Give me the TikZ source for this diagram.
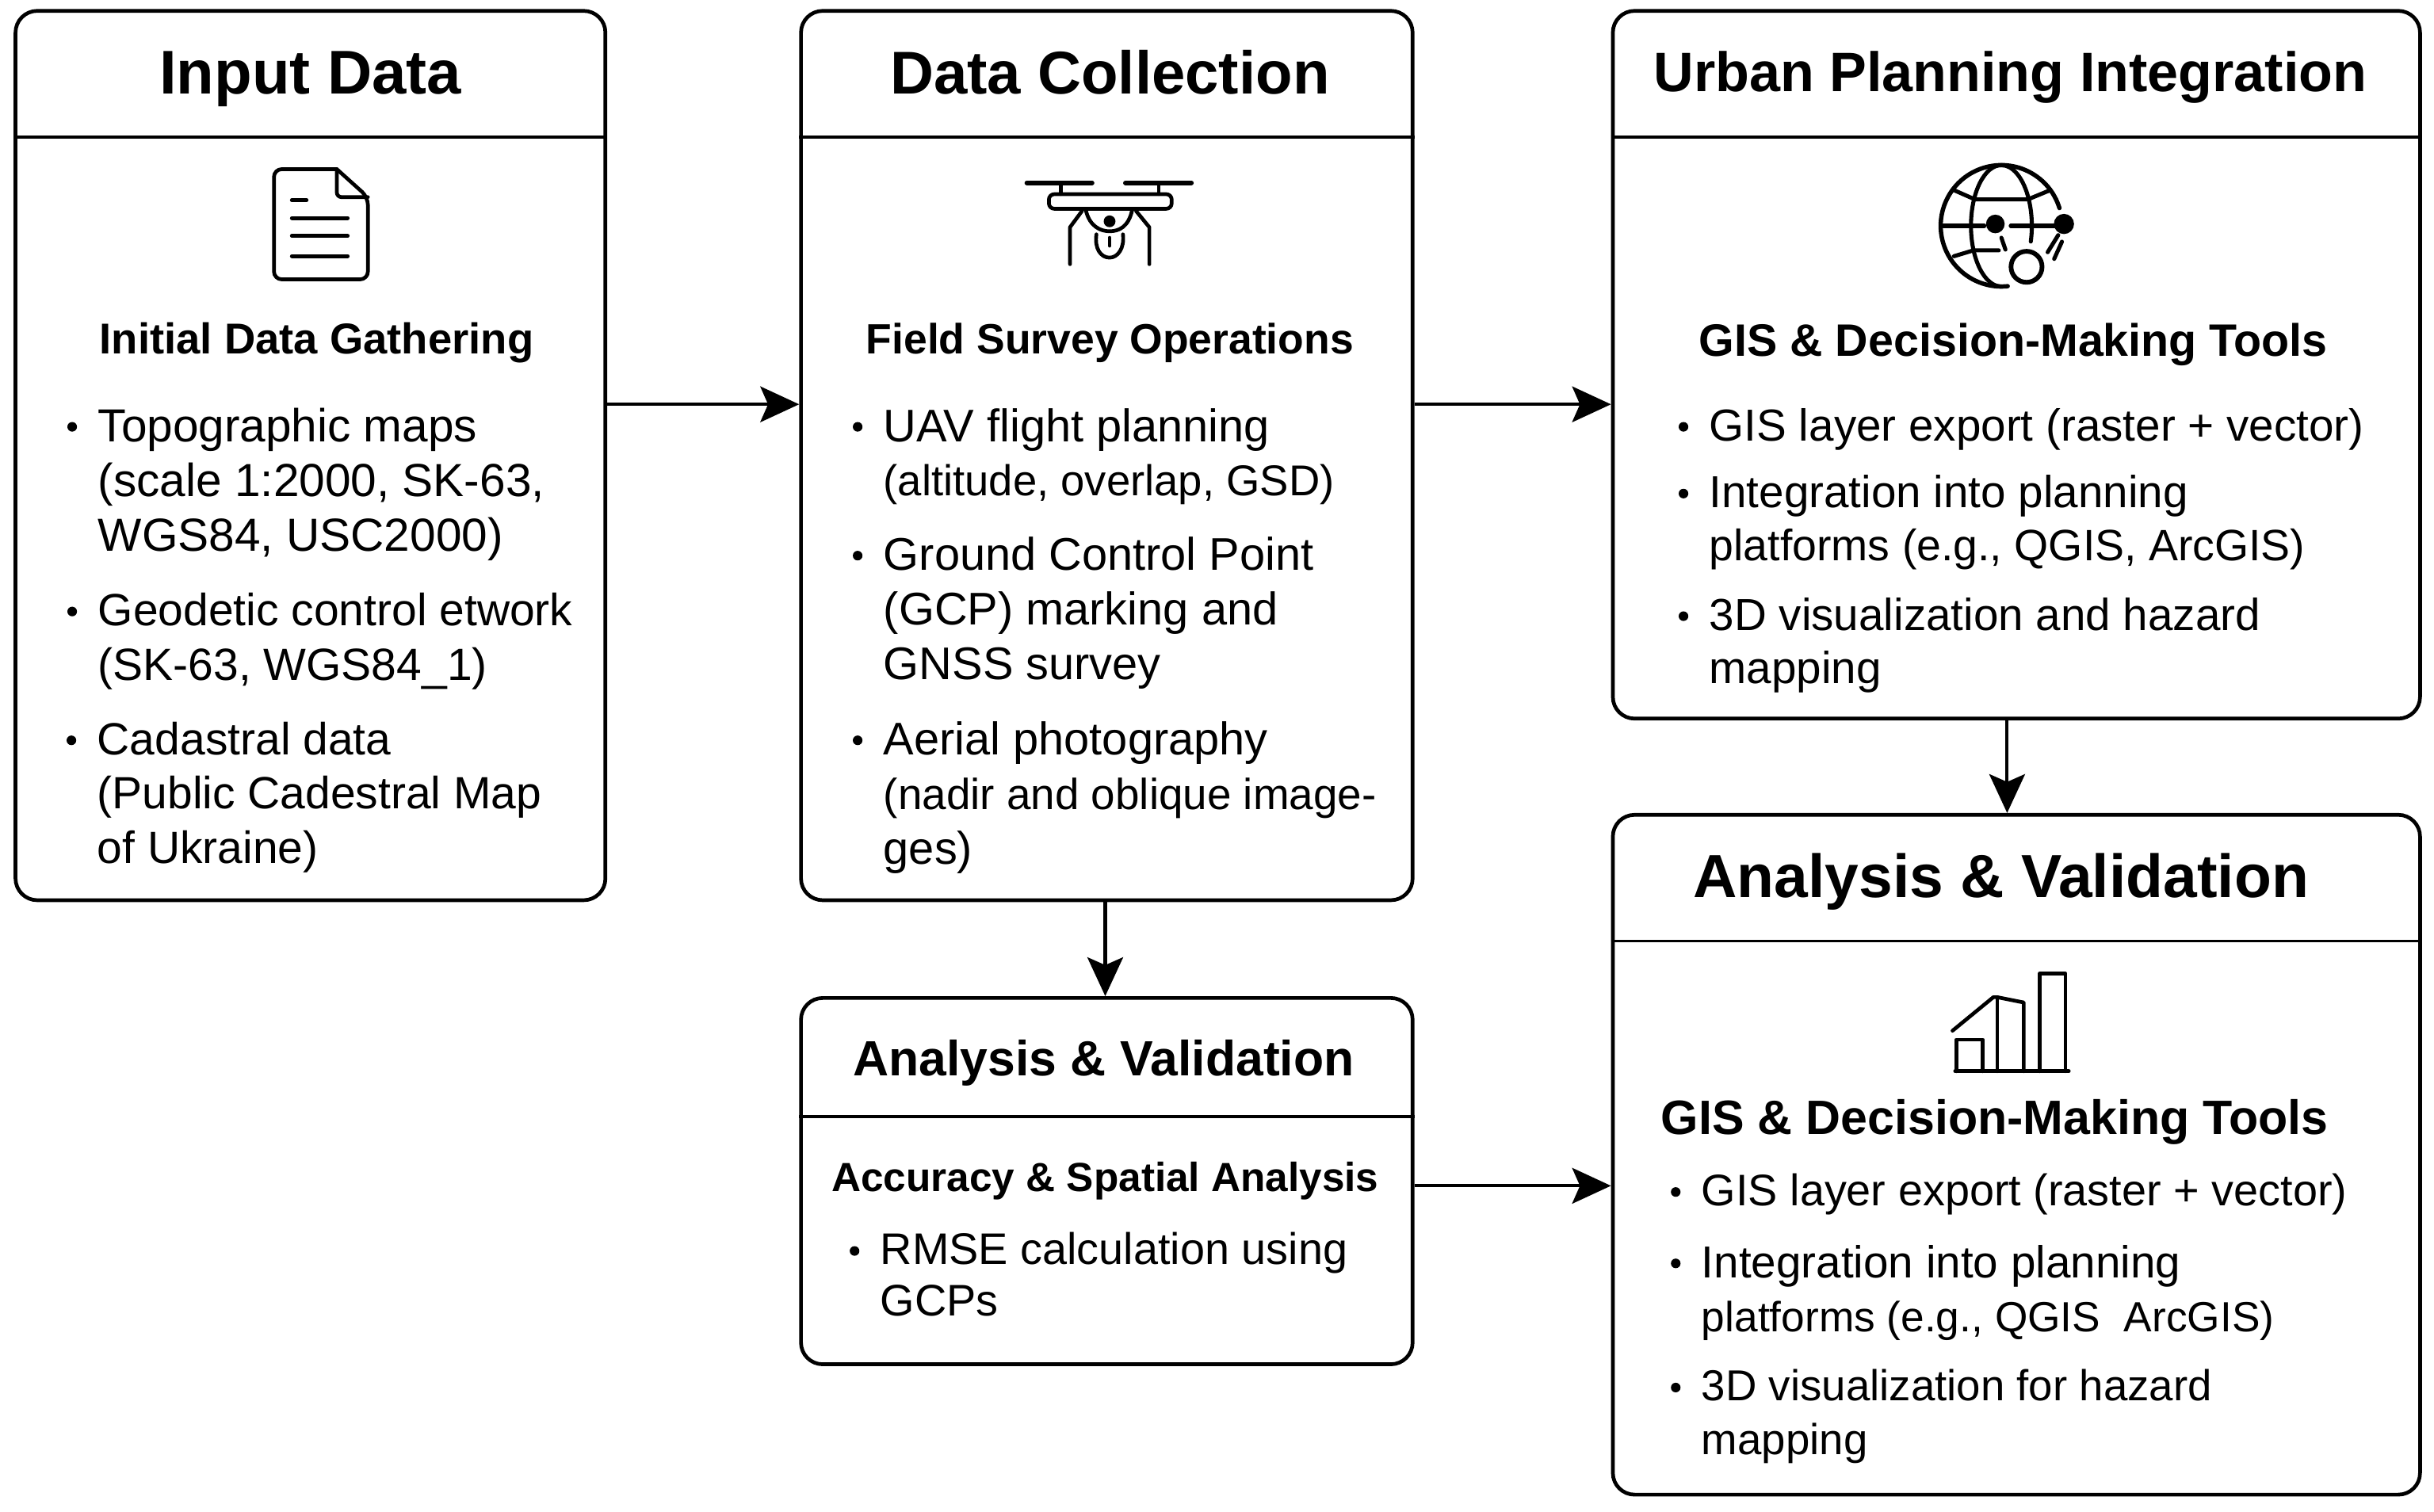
\documentclass[tikz,border=0pt]{standalone}
\usepackage{fontspec}
\setmainfont{Liberation Sans}
\usetikzlibrary{arrows.meta}
\newcommand{\linesize}[1]{\fontsize{#1}{35}\selectfont}

\begin{document}
\begin{tikzpicture}[x=1pt,y=-1pt]

\tikzstyle{panel}=[rectangle,draw=black,line width=2.4pt,rounded corners=14pt,inner sep=0pt]
\tikzstyle{rule}=[draw=black,line width=2pt]
\tikzstyle{flow}=[draw=black,line width=2.1pt,-{Stealth[length=25pt,width=23pt,inset=5pt]}]
\tikzstyle{icon}=[draw=black,line width=2.4pt,line cap=round,line join=round]
\tikzstyle{head}=[inner sep=0pt,font=\fontsize{39.2}{44}\selectfont\bfseries]
\tikzstyle{subhead}=[inner sep=0pt,font=\fontsize{27.8}{32}\selectfont\bfseries]
\tikzstyle{item}=[anchor=north west,align=left,inner sep=0pt,
    append after command={\pgfextra
        \fill[black] ([xshift=-16.5pt,yshift=-12pt]\tikzlastnode.north west) circle (3.1pt);
                                    \endpgfextra}]
\tikzstyle{inputitem}=[item,font=\fontsize{29.9}{35}\selectfont]
\tikzstyle{collectitem}=[item,font=\fontsize{29.5}{35}\selectfont]
\tikzstyle{urbanitem}=[item,font=\fontsize{28.9}{34}\selectfont]
\tikzstyle{resultitem}=[item,font=\fontsize{28.5}{35}\selectfont]
\tikzstyle{accuracyitem}=[item,font=\fontsize{28.5}{33}\selectfont]

\useasboundingbox (0,0) rectangle (1568,974);

\node (input) [panel,minimum width=380pt,minimum height=573pt] at (200,293.5) {};
\node (collect) [panel,minimum width=394pt,minimum height=573pt] at (713,293.5) {};
\node (urban) [panel,minimum width=520pt,minimum height=456pt] at (1299,235) {};
\node (result) [panel,minimum width=520pt,minimum height=438pt] at (1299,744) {};
\node (accuracy) [panel,minimum width=394pt,minimum height=236pt] at (713,761) {};

\draw[rule] ([yshift=-82.5pt]input.north west) -- ([yshift=-82.5pt]input.north east);
\draw[rule] ([yshift=-82.5pt]collect.north west) -- ([yshift=-82.5pt]collect.north east);
\draw[rule] ([yshift=-82.5pt]urban.north west) -- ([yshift=-82.5pt]urban.north east);
\draw[rule] ([yshift=-82.5pt]result.north west) -- ([yshift=-82.5pt]result.north east);
\draw[rule] ([yshift=-77.5pt]accuracy.north west) -- ([yshift=-77.5pt]accuracy.north east);

% titles
\node (inputhead) [head,font=\fontsize{39.8}{44}\selectfont\bfseries] at (200,51) {Input Data};
\node (collecthead) [head,font=\fontsize{38.9}{44}\selectfont\bfseries] at (715,46.5) {Data Collection};
\node (urbanhead) [head,font=\fontsize{35.8}{40}\selectfont\bfseries] at (1295,50) {Urban Planning Integration};
\node (resulthead) [head] at (1289,568) {Analysis \& Validation};
\node (accuracyhead) [head,font=\fontsize{31.9}{36}\selectfont\bfseries] at (711,685) {Analysis \& Validation};

\node (inputsub) [subhead] at (204,221) {Initial Data Gathering};
\node (collectsub) [subhead,font=\fontsize{27.3}{32}\selectfont\bfseries] at (715,221) {Field Survey Operations};
\node (urbansub) [subhead,font=\fontsize{29.3}{34}\selectfont\bfseries] at (1297,222) {GIS \& Decision-Making Tools};
\node (resultsub) [subhead,font=\fontsize{31.1}{36}\selectfont\bfseries] at (1285,723) {GIS \& Decision-Making Tools};
\node (accuracysub) [subhead,font=\fontsize{26.2}{30}\selectfont\bfseries] at (712,761) {Accuracy \& Spatial Analysis};

% lists
\node (inputa) [inputitem] at (63,263) {Topographic maps\\(scale 1:2000, SK-63,\\WGS84, USC2000)};
\node (inputb) [inputitem,font=\fontsize{29.1}{35}\selectfont] at (63,382) {Geodetic control etwork\\(SK-63, WGS84\_1)};
\node (inputc) [inputitem,font=\fontsize{29.1}{35}\selectfont] at (62.5,465) {Cadastral data\\(Public Cadestral Map\\of Ukraine)};

\node (collecta) [collectitem] at (569,263) {UAV flight planning\\{\linesize{27.8}(altitude, overlap, GSD)}};
\node (collectb) [collectitem] at (569,346) {Ground Control Point\\(GCP) marking and\\GNSS survey};
\node (collectc) [collectitem] at (569,465) {Aerial photography\\{\linesize{28}(nadir and oblique image-}\\ges)};

\node (urbana) [urbanitem] at (1101,263) {GIS layer export (raster + vector)};
\node (urbanb) [urbanitem] at (1101,306) {Integration into planning\\{\linesize{28.3}platforms (e.g., QGIS, ArcGIS)}};
\node (urbanc) [urbanitem] at (1101,385) {3D visualization and hazard\\mapping};

\node (resulta) [resultitem] at (1096,756) {GIS layer export (raster + vector)};
\node (resultb) [resultitem,font=\fontsize{28.9}{35}\selectfont] at (1096,802) {Integration into planning\\{\linesize{27.2}platforms (e.g., QGIS\ \ ArcGIS)}};
\node (resultc) [resultitem,font=\fontsize{27.9}{34.5}\selectfont] at (1096,882) {3D visualization for hazard\\mapping};

\node (accuracya) [accuracyitem] at (567,794) {RMSE calculation using\\GCPs};

% document icon
\draw[icon] (217,109) -- (186,109) [rounded corners=5pt] -- (176.5,109) -- (176.5,180) -- (237,180) -- (237,127) [sharp corners] -- (217,109);
\draw[icon,rounded corners=3pt] (217,109) -- (217,127) -- (237,127);
\draw[icon] (188,129) -- (197.5,129);
\foreach \ly in {140.5,152,165}
    \draw[icon] (188,\ly) -- (224,\ly);

% drone icon
\draw[icon,line width=3pt] (661.5,117.8) -- (703.5,117.8);
\draw[icon,line width=3pt] (725,117.8) -- (767.5,117.8);
\draw[icon] (683.3,118) -- (683.3,125) (746.4,118) -- (746.4,125);
\draw[icon,rounded corners=3.5pt] (675.7,125.1) rectangle (754.8,134.5);
\draw[icon] (697,136) -- (689.3,146.4) -- (689.3,170.2);
\draw[icon] (731.9,136) -- (740.4,146.4) -- (740.4,170.2);
\draw[icon] (699.5,135.5) .. controls (702,146) and (709,149) .. (714.8,149) .. controls (721,149) and (727,146) .. (729.3,135.5);
\fill (714.8,142.6) circle (3.8pt);
\draw[icon] (706.3,151) .. controls (705,160) and (709,166) .. (714.8,166) .. controls (720,166) and (724.5,160) .. (723.4,151);
\draw[icon] (714.8,153.2) -- (714.8,158.3);

% globe icon
\begin{scope}[shift={(1289.3,145.5)},y=1pt]
\draw[icon,line width=2.8pt] (17:39.1pt) arc[start angle=17,end angle=276,radius=39.1pt];
\draw[icon,line width=2.6pt] (0,39.1) arc[start angle=90,end angle=270,x radius=19.6pt,y radius=39.1pt];
\draw[icon,line width=2.6pt] (0,39.1) arc[start angle=90,end angle=-15,x radius=19.6pt,y radius=39.1pt];
\draw[icon,line width=2.6pt] (-37.4,0) -- (-11,0) (6,0) -- (36.6,0);
\draw[icon,line width=2.6pt] (-30.6,23) -- (-17,17) -- (17,17) -- (31.5,23);
\draw[icon,line width=2.6pt] (-30.6,-19.6) -- (-18,-15.8) -- (-1.7,-15.8);
\fill (-3.9,1.2) circle (6pt);
\fill (40.3,1.2) circle (6.5pt);
\draw[icon,line width=3pt] (16.2,-26.4) circle (10pt);
\draw[icon,line width=2.6pt] (0,-7.7) -- (2.6,-15.3);
\draw[icon,line width=2.6pt] (29.8,-17) -- (36.6,-6);
\draw[icon,line width=2.6pt] (34,-21.3) -- (39,-10.2);
\end{scope}

% chart icon
\draw[icon] (1259.5,690.2) -- (1332.7,690.2);
\draw[icon] (1260.3,690.2) -- (1260.3,669.8) -- (1277.3,669.8) -- (1277.3,690.2);
\draw[icon] (1257.8,664.1) -- (1284.1,642.5) -- (1286.7,642.5) -- (1303.7,645.9) -- (1303.7,690.2);
\draw[icon] (1286.7,642.5) -- (1286.7,690.2);
\draw[icon] (1313.9,690.2) -- (1313.9,627.2) -- (1330.5,627.2) -- (1330.5,690.2);

% arrows
\draw[flow] ([yshift=33pt]input.east) -- ([yshift=33pt]collect.west);
\draw[flow] ([yshift=33pt]collect.east) -- ([yshift=-25.5pt]urban.west);
\draw[flow] ([xshift=-1pt]collect.south) -- ([xshift=-1pt]accuracy.north);
\draw[flow] ([xshift=-6pt]urban.south) -- ([xshift=-6pt]result.north);
\draw[flow] ([yshift=-3pt]accuracy.east) -- ([yshift=-20pt]result.west);
\end{tikzpicture}
\end{document}
